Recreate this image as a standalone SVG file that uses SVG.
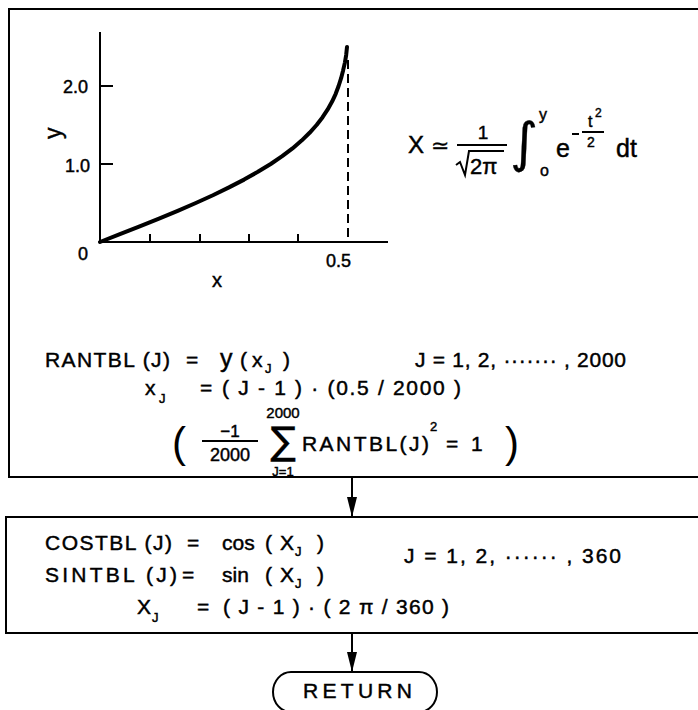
<svg xmlns="http://www.w3.org/2000/svg" width="698" height="710" viewBox="0 0 698 710">
<style>
text{font-family:"Liberation Sans",Arial,sans-serif;fill:#000;stroke:#000;stroke-width:0.45px}
.t{font-size:21px}
.g{font-size:18px}
.s{font-size:13px}
.m{font-family:"DejaVu Sans",sans-serif;stroke-width:0.3px}
.ln{stroke:#000;fill:none;stroke-width:2}
.box{stroke:#000;fill:none;stroke-width:2}
</style>
<defs>
<marker id="ah" markerUnits="userSpaceOnUse" markerWidth="22" markerHeight="12" refX="20" refY="5" orient="auto">
<path d="M0,0 L20,5 L0,10 Z" fill="#000"/>
</marker>
</defs>
<rect x="0" y="0" width="698" height="710" fill="#fff"/>

<g id="table-box">
<rect class="box" x="9" y="9" width="720" height="468"/>
<g id="graph">
<line class="ln" x1="100" y1="32" x2="100" y2="243" stroke-width="2.5"/>
<line class="ln" x1="99" y1="242" x2="388" y2="242" stroke-width="2.5"/>
<path class="ln" d="M150,242 V234 M200,242 V234 M249,242 V234 M298,242 V234 M100,86 H113 M100,164 H113"/>
<line class="ln" x1="348" y1="60" x2="348" y2="242" stroke-dasharray="9,5" stroke-width="1.6"/>
<polyline fill="none" stroke="#000" stroke-width="4" stroke-linejoin="round" stroke-linecap="round" points="100,242 119.9,234.2 139.7,226.4 159,218.6 177.7,210.8 195.8,203 212.9,195.2 229,187.4 244.1,179.6 257.9,171.8 270.7,164 282.2,156.2 292.5,148.4 301.6,140.6 309.6,132.8 316.6,125 322.6,117.2 327.7,109.4 332.1,101.6 335.7,93.8 338.6,86 341.1,78.2 343.1,70.4 344.9,62.6 346.2,54.8 347,47"/>
<text class="g" x="63" y="93">2.0</text>
<text class="g" x="65" y="172">1.0</text>
<text class="g" x="78" y="260">0</text>
<text class="g" x="326" y="267">0.5</text>
<text class="g" x="212" y="287" style="font-size:20px">x</text>
<text x="0" y="0" style="font-size:23px" transform="translate(61,139) rotate(-90)">y</text>
</g>
<g id="formula">
<text x="408" y="153" style="font-size:24px">X</text>
<text class="m" x="431" y="153" style="font-size:22px">≃</text>
<line class="ln" x1="457" y1="145" x2="507" y2="145" stroke-width="1.8"/>
<text x="483" y="139" style="font-size:19px" text-anchor="middle">1</text>
<path class="ln" d="M456,165 L460,162 L465,175 L469,151 L504,151" stroke-width="1.8"/>
<text x="470" y="174" style="font-size:22px">2π</text>
<text class="m" x="510" y="161" style="font-size:54px">∫</text>
<text x="539" y="120" style="font-size:16px">y</text>
<text x="540" y="176" style="font-size:16px">o</text>
<text x="556" y="157" style="font-size:25px">e</text>
<line class="ln" x1="572" y1="134" x2="579" y2="134" stroke-width="2"/>
<line class="ln" x1="582" y1="132" x2="604" y2="132" stroke-width="2"/>
<text x="588" y="127" style="font-size:16px">t</text>
<text x="595" y="117" style="font-size:12px">2</text>
<text x="587" y="147" style="font-size:14px">2</text>
<text x="616" y="157" style="font-size:25px">dt</text>
</g>
<g id="rantbl">
<text class="t" x="45" y="367" textLength="125" lengthAdjust="spacing">RANTBL (J)</text>
<text class="t" x="186" y="367">=</text>
<text x="220" y="367" style="font-size:25px">y</text>
<text class="t" x="240" y="367">(</text>
<text class="t" x="252" y="367">x</text>
<text class="s" x="265" y="373">J</text>
<text class="t" x="283" y="367">)</text>
<text class="t" x="415" y="367" textLength="211" lengthAdjust="spacing">J = 1, 2, ······· , 2000</text>
<text class="t" x="145" y="395">x</text>
<text class="s" x="159" y="403">J</text>
<text class="t" x="200" y="395">=</text>
<text class="t" x="222" y="395" textLength="239" lengthAdjust="spacing">( J - 1 ) · (0.5 / 2000 )</text>
<text x="172" y="457" style="font-size:42px;stroke-width:0px">(</text>
<text x="230" y="437" style="font-size:17px" text-anchor="middle">−1</text>
<line class="ln" x1="202" y1="441" x2="258" y2="441" stroke-width="1.6"/>
<text x="230" y="461" style="font-size:18px" text-anchor="middle">2000</text>
<text x="283" y="418" style="font-size:15px" text-anchor="middle">2000</text>
<text class="m" x="283" y="454" style="font-size:38px" text-anchor="middle">∑</text>
<text class="s" x="283" y="476" text-anchor="middle">J=1</text>
<text x="302" y="451" style="font-size:21px" textLength="127" lengthAdjust="spacing">RANTBL(J)</text>
<text class="s" x="430" y="431">2</text>
<text x="446" y="451" style="font-size:21px">=</text>
<text x="471" y="451" style="font-size:21px">1</text>
<text x="505" y="457" style="font-size:42px;stroke-width:0px">)</text>
</g>
</g>

<g id="trig-box">
<rect class="box" x="6" y="517" width="720" height="116"/>
<text class="t" x="45" y="550" textLength="127" lengthAdjust="spacing">COSTBL (J)</text>
<text class="t" x="187" y="550">=</text>
<text class="t" x="222" y="550">cos</text>
<text class="t" x="265" y="550">(</text>
<text class="t" x="280" y="550">X</text>
<text class="s" x="295" y="556">J</text>
<text class="t" x="317" y="550">)</text>
<text class="t" x="45" y="582" textLength="132" lengthAdjust="spacing">SINTBL (J)</text>
<text class="t" x="182" y="582">=</text>
<text class="t" x="222" y="582">sin</text>
<text class="t" x="265" y="582">(</text>
<text class="t" x="280" y="582">X</text>
<text class="s" x="295" y="588">J</text>
<text class="t" x="317" y="582">)</text>
<text class="t" x="137" y="614">X</text>
<text class="s" x="152" y="622">J</text>
<text class="t" x="197" y="614">=</text>
<text class="t" x="223" y="614" textLength="226" lengthAdjust="spacing">( J - 1 ) · ( 2 π / 360 )</text>
<text class="t" x="404" y="563" textLength="217" lengthAdjust="spacing">J = 1, 2, ······ , 360</text>
</g>

<g id="return">
<path class="box" d="M291,672 L419,672 A18,20 0 0 1 419,712 L291,712 A18,20 0 0 1 291,672 Z"/>
<text class="t" x="303" y="698" textLength="109" lengthAdjust="spacing">RETURN</text>
</g>

<g id="connectors">
<line class="ln" x1="352" y1="477" x2="352" y2="517" marker-end="url(#ah)"/>
<line class="ln" x1="352" y1="633" x2="352" y2="672" marker-end="url(#ah)"/>
</g>
</svg>
